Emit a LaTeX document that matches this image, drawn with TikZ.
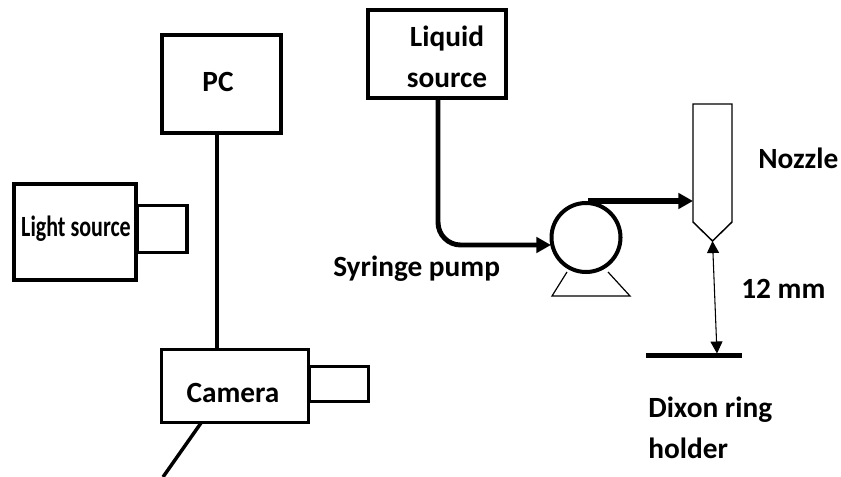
\documentclass[tikz,border=0pt]{standalone}
\usepackage{fontspec}
\setmainfont{Carlito}
\usetikzlibrary{arrows.meta}
\tikzset{
  x=0.75pt,y=-0.75pt,
  box/.style={draw=black,line width=2.7pt,inner sep=0pt,fill=white},
  heavybox/.style={draw=black,line width=3.4pt,inner sep=0pt,fill=white},
  thinbox/.style={draw=black,line width=2.3pt,inner sep=0pt,fill=white},
  label/.style={font=\bfseries\fontsize{22}{30.75}\selectfont,inner sep=0pt,text=black,align=center},
  pipe/.style={line width=3.7pt,draw=black},
  flow/.style={pipe,-{Triangle[length=11pt,width=11.5pt]}},
  gap/.style={draw=black,line width=0.8pt,{Triangle[length=9pt,width=9pt]}-{Triangle[length=9pt,width=9pt]}},
}
\begin{document}
\begin{tikzpicture}
\useasboundingbox (0,0) rectangle (841,477);
% computer and camera
\node[heavybox,minimum width=119*0.75pt,minimum height=98*0.75pt] (pc) at (221.5,84) {};
\node[label] (pclabel) at (218,82) {PC};
\node[thinbox,minimum width=59*0.75pt,minimum height=35*0.75pt] (camlens) at (339,384) {};
\node[box,minimum width=147*0.75pt,minimum height=73*0.75pt] (camera) at (235,386) {};
\node[label] (camlabel) at (233,393) {Camera};
\coordinate (pcfoot) at (217,133);
\draw[pipe] (pcfoot) -- (pcfoot |- camera.north);
\coordinate (legtop) at (201,423);
\coordinate (legend) at (163,477);
\draw[line width=2.6pt] (legtop) -- (legend);
% light
\node[thinbox,minimum width=50*0.75pt,minimum height=47*0.75pt] (lightlens) at (162,229) {};
\node[box,minimum width=122*0.75pt,minimum height=96*0.75pt] (light) at (75,232) {};
\node[label,xscale=0.75] (lightlabel) at (76,229) {Light source};
% liquid
\node[heavybox,minimum width=138*0.75pt,minimum height=88*0.75pt] (liquid) at (437,54) {};
\node[label] (liquidlabel) at (447,57) {Liquid\\source};
% pump
\node[draw=black,line width=3pt,circle,minimum size=69*0.75pt,inner sep=0pt] (pump) at (586,237.5) {};
\coordinate (standL) at (567,272);
\coordinate (standR) at (608,272);
\coordinate (baseL) at (552,296);
\coordinate (baseR) at (630,296);
\draw[line width=0.9pt] (standL) -- (baseL) -- (baseR) -- (standR);
\coordinate (liquidfoot) at (438,98);
\coordinate (pumpin) at (551,245);
\draw[flow,rounded corners=17pt] (liquidfoot) -- (liquidfoot |- pumpin) -- (pumpin);
\node[label,anchor=west] (pumplabel) at (333,269) {Syringe pump};
% nozzle
\coordinate (n1) at (693,104);
\coordinate (n2) at (732,104);
\coordinate (n3) at (732,222);
\coordinate (tip) at (712.5,241);
\coordinate (n5) at (693,222);
\draw[line width=1.1pt,line join=miter] (n1) -- (n2) -- (n3) -- (tip) -- (n5) -- cycle;
\coordinate (pumptop) at (588,201);
\coordinate (inlet) at (693,201);
\draw[flow,line width=4.2pt] (pumptop) -- (inlet);
\node[label,anchor=west] (nozzlelabel) at (758,158) {Nozzle};
% holder
\node[fill=black,inner sep=0pt,minimum width=96*0.75pt,minimum height=4.5*0.75pt] (plate) at (693.5,355.5) {};
\coordinate (platetop) at (717,353.5);
\draw[gap] (tip) -- (platetop);
\node[label,anchor=west] (gaplabel) at (741,289) {12 mm};
\node[label,anchor=west,align=left] (holderlabel) at (648,428) {Dixon ring\\holder};
\end{tikzpicture}
\end{document}
